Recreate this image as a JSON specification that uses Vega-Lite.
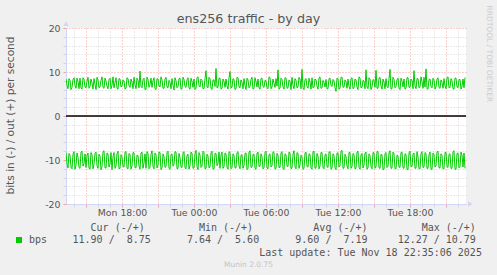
{
"$schema": "https://vega.github.io/schema/vega-lite/v6.json",
"width": 400, "height": 176,
"autosize": {"type": "none"},
"padding": {"left": 66, "top": 28, "right": 31, "bottom": 71},
"background": "#f0f0f0",
"config": {"view": {"fill": "#ffffff", "stroke": null}, "font": "DejaVu Sans"},
"datasets": {"traffic": [
{"t":"2025-11-17T13:20Z","o":8.4,"n":-8.3},{"t":"2025-11-17T13:25Z","o":7.0,"n":-10.9},{"t":"2025-11-17T13:30Z","o":6.2,"n":-11.8},{"t":"2025-11-17T13:35Z","o":8.5,"n":-8.5},{"t":"2025-11-17T13:40Z","o":8.1,"n":-8.9},{"t":"2025-11-17T13:45Z","o":6.0,"n":-11.6},{"t":"2025-11-17T13:50Z","o":6.5,"n":-12.0},{"t":"2025-11-17T13:55Z","o":8.3,"n":-8.7},
{"t":"2025-11-17T14:00Z","o":8.7,"n":-8.1},{"t":"2025-11-17T14:05Z","o":6.9,"n":-12.1},{"t":"2025-11-17T14:10Z","o":6.3,"n":-11.2},{"t":"2025-11-17T14:15Z","o":8.6,"n":-8.4},{"t":"2025-11-17T14:20Z","o":7.8,"n":-9.4},{"t":"2025-11-17T14:25Z","o":6.2,"n":-11.7},{"t":"2025-11-17T14:30Z","o":8.6,"n":-11.9},{"t":"2025-11-17T14:35Z","o":6.4,"n":-8.2},{"t":"2025-11-17T14:40Z","o":6.1,"n":-8.0},{"t":"2025-11-17T14:45Z","o":8.7,"n":-11.4},{"t":"2025-11-17T14:50Z","o":8.3,"n":-10.8},{"t":"2025-11-17T14:55Z","o":6.6,"n":-8.6},
{"t":"2025-11-17T15:00Z","o":6.4,"n":-11.7},{"t":"2025-11-17T15:05Z","o":7.9,"n":-9.0},{"t":"2025-11-17T15:10Z","o":8.8,"n":-8.4},{"t":"2025-11-17T15:15Z","o":6.3,"n":-11.9},{"t":"2025-11-17T15:20Z","o":6.7,"n":-12.1},{"t":"2025-11-17T15:25Z","o":8.4,"n":-8.3},{"t":"2025-11-17T15:30Z","o":7.5,"n":-8.8},{"t":"2025-11-17T15:35Z","o":6.1,"n":-12.0},{"t":"2025-11-17T15:40Z","o":8.5,"n":-11.0},{"t":"2025-11-17T15:45Z","o":7.2,"n":-8.5},{"t":"2025-11-17T15:50Z","o":6.0,"n":-8.2},{"t":"2025-11-17T15:55Z","o":8.8,"n":-11.3},
{"t":"2025-11-17T16:00Z","o":8.2,"n":-11.9},{"t":"2025-11-17T16:05Z","o":6.4,"n":-8.7},{"t":"2025-11-17T16:10Z","o":6.6,"n":-9.1},{"t":"2025-11-17T16:15Z","o":8.1,"n":-12.2},{"t":"2025-11-17T16:20Z","o":8.9,"n":-11.5},{"t":"2025-11-17T16:25Z","o":6.5,"n":-8.1},{"t":"2025-11-17T16:30Z","o":6.3,"n":-7.9},{"t":"2025-11-17T16:35Z","o":8.6,"n":-11.8},{"t":"2025-11-17T16:40Z","o":7.9,"n":-11.8},{"t":"2025-11-17T16:45Z","o":6.8,"n":-8.4},{"t":"2025-11-17T16:50Z","o":6.2,"n":-8.6},{"t":"2025-11-17T16:55Z","o":8.3,"n":-11.6},
{"t":"2025-11-17T17:00Z","o":8.6,"n":-10.9},{"t":"2025-11-17T17:05Z","o":6.2,"n":-8.3},{"t":"2025-11-17T17:10Z","o":7.0,"n":-12.2},{"t":"2025-11-17T17:15Z","o":8.9,"n":-9.2},{"t":"2025-11-17T17:20Z","o":6.4,"n":-8.3},{"t":"2025-11-17T17:25Z","o":7.6,"n":-11.9},{"t":"2025-11-17T17:30Z","o":8.7,"n":-11.4},{"t":"2025-11-17T17:35Z","o":6.3,"n":-8.6},{"t":"2025-11-17T17:40Z","o":6.1,"n":-8.0},{"t":"2025-11-17T17:45Z","o":8.5,"n":-12.0},{"t":"2025-11-17T17:50Z","o":8.4,"n":-11.9},{"t":"2025-11-17T17:55Z","o":6.6,"n":-8.8},
{"t":"2025-11-17T18:00Z","o":6.8,"n":-9.3},{"t":"2025-11-17T18:05Z","o":8.2,"n":-11.5},{"t":"2025-11-17T18:10Z","o":8.0,"n":-11.6},{"t":"2025-11-17T18:15Z","o":6.1,"n":-8.2},{"t":"2025-11-17T18:20Z","o":6.3,"n":-8.1},{"t":"2025-11-17T18:25Z","o":8.7,"n":-11.8},{"t":"2025-11-17T18:30Z","o":8.5,"n":-12.0},{"t":"2025-11-17T18:35Z","o":6.9,"n":-8.5},{"t":"2025-11-17T18:40Z","o":6.5,"n":-8.7},{"t":"2025-11-17T18:45Z","o":8.4,"n":-12.1},{"t":"2025-11-17T18:50Z","o":7.7,"n":-11.3},{"t":"2025-11-17T18:55Z","o":6.2,"n":-8.3},
{"t":"2025-11-17T19:00Z","o":8.8,"n":-8.4},{"t":"2025-11-17T19:05Z","o":7.1,"n":-11.7},{"t":"2025-11-17T19:10Z","o":6.2,"n":-11.8},{"t":"2025-11-17T19:15Z","o":8.6,"n":-8.9},{"t":"2025-11-17T19:20Z","o":8.1,"n":-9.0},{"t":"2025-11-17T19:25Z","o":6.4,"n":-11.4},{"t":"2025-11-17T19:30Z","o":10.2,"n":-12.1},{"t":"2025-11-17T19:35Z","o":6.7,"n":-8.4},{"t":"2025-11-17T19:40Z","o":6.4,"n":-8.2},{"t":"2025-11-17T19:45Z","o":8.3,"n":-11.9},{"t":"2025-11-17T19:50Z","o":8.6,"n":-10.7},{"t":"2025-11-17T19:55Z","o":6.0,"n":-8.6},
{"t":"2025-11-17T20:00Z","o":6.1,"n":-11.9},{"t":"2025-11-17T20:05Z","o":8.8,"n":-8.1},{"t":"2025-11-17T20:10Z","o":8.3,"n":-8.5},{"t":"2025-11-17T20:15Z","o":6.5,"n":-12.0},{"t":"2025-11-17T20:20Z","o":7.1,"n":-11.6},{"t":"2025-11-17T20:25Z","o":8.6,"n":-8.7},{"t":"2025-11-17T20:30Z","o":6.5,"n":-7.9},{"t":"2025-11-17T20:35Z","o":8.0,"n":-11.5},{"t":"2025-11-17T20:40Z","o":8.7,"n":-12.0},{"t":"2025-11-17T20:45Z","o":6.2,"n":-8.4},{"t":"2025-11-17T20:50Z","o":6.0,"n":-8.8},{"t":"2025-11-17T20:55Z","o":8.5,"n":-11.8},
{"t":"2025-11-17T21:00Z","o":8.4,"n":-11.2},{"t":"2025-11-17T21:05Z","o":6.8,"n":-8.2},{"t":"2025-11-17T21:10Z","o":6.6,"n":-8.3},{"t":"2025-11-17T21:15Z","o":8.9,"n":-12.2},{"t":"2025-11-17T21:20Z","o":8.2,"n":-11.8},{"t":"2025-11-17T21:25Z","o":6.3,"n":-8.6},{"t":"2025-11-17T21:30Z","o":6.3,"n":-9.2},{"t":"2025-11-17T21:35Z","o":8.4,"n":-11.7},{"t":"2025-11-17T21:40Z","o":8.8,"n":-11.5},{"t":"2025-11-17T21:45Z","o":6.6,"n":-8.3},{"t":"2025-11-17T21:50Z","o":6.4,"n":-8.0},{"t":"2025-11-17T21:55Z","o":8.1,"n":-11.9},
{"t":"2025-11-17T22:00Z","o":7.6,"n":-12.1},{"t":"2025-11-17T22:05Z","o":6.2,"n":-8.8},{"t":"2025-11-17T22:10Z","o":8.5,"n":-8.6},{"t":"2025-11-17T22:15Z","o":7.0,"n":-11.4},{"t":"2025-11-17T22:20Z","o":5.9,"n":-11.0},{"t":"2025-11-17T22:25Z","o":8.7,"n":-8.1},{"t":"2025-11-17T22:30Z","o":8.0,"n":-8.2},{"t":"2025-11-17T22:35Z","o":6.4,"n":-12.0},{"t":"2025-11-17T22:40Z","o":6.7,"n":-11.9},{"t":"2025-11-17T22:45Z","o":8.5,"n":-8.5},{"t":"2025-11-17T22:50Z","o":8.6,"n":-9.4},{"t":"2025-11-17T22:55Z","o":6.1,"n":-11.6},
{"t":"2025-11-17T23:00Z","o":6.2,"n":-11.7},{"t":"2025-11-17T23:05Z","o":8.8,"n":-8.4},{"t":"2025-11-17T23:10Z","o":8.3,"n":-8.1},{"t":"2025-11-17T23:15Z","o":6.7,"n":-11.8},{"t":"2025-11-17T23:20Z","o":6.5,"n":-12.0},{"t":"2025-11-17T23:25Z","o":8.2,"n":-8.9},{"t":"2025-11-17T23:30Z","o":8.7,"n":-8.7},{"t":"2025-11-17T23:35Z","o":6.3,"n":-12.1},{"t":"2025-11-17T23:40Z","o":6.1,"n":-11.3},{"t":"2025-11-17T23:45Z","o":8.6,"n":-8.2},{"t":"2025-11-17T23:50Z","o":7.8,"n":-8.4},{"t":"2025-11-17T23:55Z","o":6.5,"n":-11.9},
{"t":"2025-11-18T00:00Z","o":8.4,"n":-11.8},{"t":"2025-11-18T00:05Z","o":6.0,"n":-8.6},{"t":"2025-11-18T00:10Z","o":6.3,"n":-7.8},{"t":"2025-11-18T00:15Z","o":8.7,"n":-11.5},{"t":"2025-11-18T00:20Z","o":8.9,"n":-12.2},{"t":"2025-11-18T00:25Z","o":6.9,"n":-8.3},{"t":"2025-11-18T00:30Z","o":6.6,"n":-8.9},{"t":"2025-11-18T00:35Z","o":8.4,"n":-11.7},{"t":"2025-11-18T00:40Z","o":8.1,"n":-11.4},{"t":"2025-11-18T00:45Z","o":6.2,"n":-8.0},{"t":"2025-11-18T00:50Z","o":6.2,"n":-8.3},{"t":"2025-11-18T00:55Z","o":8.5,"n":-12.0},
{"t":"2025-11-18T01:00Z","o":10.3,"n":-11.9},{"t":"2025-11-18T01:05Z","o":6.6,"n":-8.7},{"t":"2025-11-18T01:10Z","o":6.4,"n":-9.1},{"t":"2025-11-18T01:15Z","o":8.8,"n":-11.8},{"t":"2025-11-18T01:20Z","o":8.5,"n":-11.6},{"t":"2025-11-18T01:25Z","o":6.3,"n":-8.4},{"t":"2025-11-18T01:30Z","o":6.0,"n":-8.0},{"t":"2025-11-18T01:35Z","o":8.2,"n":-12.1},{"t":"2025-11-18T01:40Z","o":8.2,"n":-12.0},{"t":"2025-11-18T01:45Z","o":6.7,"n":-8.5},{"t":"2025-11-18T01:50Z","o":10.8,"n":-8.5},{"t":"2025-11-18T01:55Z","o":6.4,"n":-11.3},
{"t":"2025-11-18T02:00Z","o":6.5,"n":-10.8},{"t":"2025-11-18T02:05Z","o":8.6,"n":-8.2},{"t":"2025-11-18T02:10Z","o":8.6,"n":-11.9},{"t":"2025-11-18T02:15Z","o":6.1,"n":-8.8},{"t":"2025-11-18T02:20Z","o":6.3,"n":-8.2},{"t":"2025-11-18T02:25Z","o":8.4,"n":-11.9},{"t":"2025-11-18T02:30Z","o":7.9,"n":-11.5},{"t":"2025-11-18T02:35Z","o":6.5,"n":-8.4},{"t":"2025-11-18T02:40Z","o":8.4,"n":-8.6},{"t":"2025-11-18T02:45Z","o":6.8,"n":-11.6},{"t":"2025-11-18T02:50Z","o":6.1,"n":-12.1},{"t":"2025-11-18T02:55Z","o":8.7,"n":-8.1},
{"t":"2025-11-18T03:00Z","o":10.1,"n":-8.3},{"t":"2025-11-18T03:05Z","o":6.3,"n":-12.0},{"t":"2025-11-18T03:10Z","o":6.6,"n":-11.7},{"t":"2025-11-18T03:15Z","o":8.5,"n":-8.6},{"t":"2025-11-18T03:20Z","o":8.3,"n":-9.0},{"t":"2025-11-18T03:25Z","o":6.0,"n":-11.8},{"t":"2025-11-18T03:30Z","o":6.2,"n":-11.8},{"t":"2025-11-18T03:35Z","o":8.8,"n":-8.3},{"t":"2025-11-18T03:40Z","o":8.7,"n":-8.1},{"t":"2025-11-18T03:45Z","o":6.6,"n":-11.4},{"t":"2025-11-18T03:50Z","o":6.4,"n":-12.0},{"t":"2025-11-18T03:55Z","o":8.2,"n":-8.9},
{"t":"2025-11-18T04:00Z","o":7.6,"n":-8.8},{"t":"2025-11-18T04:05Z","o":6.2,"n":-11.9},{"t":"2025-11-18T04:10Z","o":8.5,"n":-11.2},{"t":"2025-11-18T04:15Z","o":6.9,"n":-8.5},{"t":"2025-11-18T04:20Z","o":6.0,"n":-8.4},{"t":"2025-11-18T04:25Z","o":8.6,"n":-12.2},{"t":"2025-11-18T04:30Z","o":8.2,"n":-11.9},{"t":"2025-11-18T04:35Z","o":6.4,"n":-8.2},{"t":"2025-11-18T04:40Z","o":6.7,"n":-7.9},{"t":"2025-11-18T04:45Z","o":8.3,"n":-11.7},{"t":"2025-11-18T04:50Z","o":8.8,"n":-11.6},{"t":"2025-11-18T04:55Z","o":6.1,"n":-8.7},
{"t":"2025-11-18T05:00Z","o":6.3,"n":-8.7},{"t":"2025-11-18T05:05Z","o":8.7,"n":-11.9},{"t":"2025-11-18T05:10Z","o":7.8,"n":-12.1},{"t":"2025-11-18T05:15Z","o":6.6,"n":-8.4},{"t":"2025-11-18T05:20Z","o":8.4,"n":-8.2},{"t":"2025-11-18T05:25Z","o":6.3,"n":-11.5},{"t":"2025-11-18T05:30Z","o":6.1,"n":-11.4},{"t":"2025-11-18T05:35Z","o":8.5,"n":-8.6},{"t":"2025-11-18T05:40Z","o":8.6,"n":-9.2},{"t":"2025-11-18T05:45Z","o":6.7,"n":-12.0},{"t":"2025-11-18T05:50Z","o":6.5,"n":-11.8},{"t":"2025-11-18T05:55Z","o":8.1,"n":-8.3},
{"t":"2025-11-18T06:00Z","o":8.0,"n":-8.0},{"t":"2025-11-18T06:05Z","o":6.4,"n":-11.8},{"t":"2025-11-18T06:10Z","o":6.2,"n":-12.0},{"t":"2025-11-18T06:15Z","o":8.9,"n":-8.8},{"t":"2025-11-18T06:20Z","o":8.7,"n":-8.6},{"t":"2025-11-18T06:25Z","o":6.2,"n":-11.6},{"t":"2025-11-18T06:30Z","o":6.6,"n":-11.3},{"t":"2025-11-18T06:35Z","o":8.4,"n":-8.1},{"t":"2025-11-18T06:40Z","o":7.4,"n":-8.3},{"t":"2025-11-18T06:45Z","o":6.5,"n":-12.1},{"t":"2025-11-18T06:50Z","o":8.5,"n":-11.9},{"t":"2025-11-18T06:55Z","o":6.8,"n":-8.5},
{"t":"2025-11-18T07:00Z","o":10.5,"n":-9.0},{"t":"2025-11-18T07:05Z","o":6.1,"n":-11.7},{"t":"2025-11-18T07:10Z","o":6.3,"n":-11.7},{"t":"2025-11-18T07:15Z","o":8.6,"n":-8.4},{"t":"2025-11-18T07:20Z","o":8.3,"n":-8.1},{"t":"2025-11-18T07:25Z","o":6.6,"n":-11.9},{"t":"2025-11-18T07:30Z","o":6.1,"n":-12.2},{"t":"2025-11-18T07:35Z","o":8.7,"n":-8.6},{"t":"2025-11-18T07:40Z","o":8.6,"n":-8.8},{"t":"2025-11-18T07:45Z","o":6.3,"n":-11.4},{"t":"2025-11-18T07:50Z","o":6.4,"n":-11.5},{"t":"2025-11-18T07:55Z","o":8.2,"n":-8.2},
{"t":"2025-11-18T08:00Z","o":7.9,"n":-8.4},{"t":"2025-11-18T08:05Z","o":6.0,"n":-12.0},{"t":"2025-11-18T08:10Z","o":8.8,"n":-11.8},{"t":"2025-11-18T08:15Z","o":6.9,"n":-8.7},{"t":"2025-11-18T08:20Z","o":6.2,"n":-7.9},{"t":"2025-11-18T08:25Z","o":8.5,"n":-11.6},{"t":"2025-11-18T08:30Z","o":8.1,"n":-12.0},{"t":"2025-11-18T08:35Z","o":6.4,"n":-8.3},{"t":"2025-11-18T08:40Z","o":6.6,"n":-8.5},{"t":"2025-11-18T08:45Z","o":8.8,"n":-11.9},{"t":"2025-11-18T08:50Z","o":8.4,"n":-11.1},{"t":"2025-11-18T08:55Z","o":6.2,"n":-8.9},
{"t":"2025-11-18T09:00Z","o":10.6,"n":-9.3},{"t":"2025-11-18T09:05Z","o":6.5,"n":-12.1},{"t":"2025-11-18T09:10Z","o":6.0,"n":-11.9},{"t":"2025-11-18T09:15Z","o":8.3,"n":-8.4},{"t":"2025-11-18T09:20Z","o":8.5,"n":-8.2},{"t":"2025-11-18T09:25Z","o":6.7,"n":-11.5},{"t":"2025-11-18T09:30Z","o":6.3,"n":-11.6},{"t":"2025-11-18T09:35Z","o":8.6,"n":-8.6},{"t":"2025-11-18T09:40Z","o":7.7,"n":-8.7},{"t":"2025-11-18T09:45Z","o":6.1,"n":-11.8},{"t":"2025-11-18T09:50Z","o":8.7,"n":-12.1},{"t":"2025-11-18T09:55Z","o":6.4,"n":-8.1},
{"t":"2025-11-18T10:00Z","o":6.5,"n":-8.0},{"t":"2025-11-18T10:05Z","o":8.4,"n":-11.9},{"t":"2025-11-18T10:10Z","o":8.2,"n":-11.8},{"t":"2025-11-18T10:15Z","o":6.8,"n":-8.5},{"t":"2025-11-18T10:20Z","o":6.1,"n":-9.1},{"t":"2025-11-18T10:25Z","o":8.7,"n":-12.0},{"t":"2025-11-18T10:30Z","o":8.9,"n":-11.4},{"t":"2025-11-18T10:35Z","o":6.3,"n":-8.3},{"t":"2025-11-18T10:40Z","o":6.4,"n":-8.3},{"t":"2025-11-18T10:45Z","o":8.1,"n":-11.7},{"t":"2025-11-18T10:50Z","o":7.6,"n":-12.0},{"t":"2025-11-18T10:55Z","o":6.6,"n":-8.8},
{"t":"2025-11-18T11:00Z","o":8.3,"n":-8.6},{"t":"2025-11-18T11:05Z","o":6.2,"n":-11.5},{"t":"2025-11-18T11:10Z","o":6.2,"n":-11.7},{"t":"2025-11-18T11:15Z","o":8.5,"n":-8.2},{"t":"2025-11-18T11:20Z","o":8.6,"n":-8.1},{"t":"2025-11-18T11:25Z","o":6.9,"n":-12.1},{"t":"2025-11-18T11:30Z","o":6.7,"n":-11.9},{"t":"2025-11-18T11:35Z","o":8.3,"n":-8.6},{"t":"2025-11-18T11:40Z","o":8.0,"n":-8.9},{"t":"2025-11-18T11:45Z","o":6.4,"n":-11.8},{"t":"2025-11-18T11:50Z","o":5.6,"n":-12.2},{"t":"2025-11-18T11:55Z","o":8.6,"n":-8.4},
{"t":"2025-11-18T12:00Z","o":8.5,"n":-8.4},{"t":"2025-11-18T12:05Z","o":6.1,"n":-11.6},{"t":"2025-11-18T12:10Z","o":6.3,"n":-11.3},{"t":"2025-11-18T12:15Z","o":8.8,"n":-8.0},{"t":"2025-11-18T12:20Z","o":8.8,"n":-7.8},{"t":"2025-11-18T12:25Z","o":6.5,"n":-11.9},{"t":"2025-11-18T12:30Z","o":6.6,"n":-11.8},{"t":"2025-11-18T12:35Z","o":8.2,"n":-8.7},{"t":"2025-11-18T12:40Z","o":7.8,"n":-9.2},{"t":"2025-11-18T12:45Z","o":6.3,"n":-11.4},{"t":"2025-11-18T12:50Z","o":8.4,"n":-12.0},{"t":"2025-11-18T12:55Z","o":6.7,"n":-8.3},
{"t":"2025-11-18T13:00Z","o":6.1,"n":-8.3},{"t":"2025-11-18T13:05Z","o":8.5,"n":-11.9},{"t":"2025-11-18T13:10Z","o":8.7,"n":-11.5},{"t":"2025-11-18T13:15Z","o":6.2,"n":-8.5},{"t":"2025-11-18T13:20Z","o":6.4,"n":-8.7},{"t":"2025-11-18T13:25Z","o":8.4,"n":-12.0},{"t":"2025-11-18T13:30Z","o":8.2,"n":-11.9},{"t":"2025-11-18T13:35Z","o":6.6,"n":-8.2},{"t":"2025-11-18T13:40Z","o":6.0,"n":-8.0},{"t":"2025-11-18T13:45Z","o":8.9,"n":-11.7},{"t":"2025-11-18T13:50Z","o":8.6,"n":-12.1},{"t":"2025-11-18T13:55Z","o":6.4,"n":-8.8},
{"t":"2025-11-18T14:00Z","o":6.5,"n":-8.5},{"t":"2025-11-18T14:05Z","o":8.1,"n":-11.8},{"t":"2025-11-18T14:10Z","o":7.9,"n":-11.2},{"t":"2025-11-18T14:15Z","o":6.2,"n":-8.4},{"t":"2025-11-18T14:20Z","o":10.5,"n":-8.2},{"t":"2025-11-18T14:25Z","o":6.6,"n":-12.1},{"t":"2025-11-18T14:30Z","o":6.2,"n":-11.8},{"t":"2025-11-18T14:35Z","o":8.7,"n":-8.6},{"t":"2025-11-18T14:40Z","o":8.4,"n":-9.0},{"t":"2025-11-18T14:45Z","o":6.0,"n":-11.5},{"t":"2025-11-18T14:50Z","o":6.6,"n":-12.0},{"t":"2025-11-18T14:55Z","o":8.3,"n":-8.3},
{"t":"2025-11-18T15:00Z","o":8.1,"n":-8.4},{"t":"2025-11-18T15:05Z","o":6.5,"n":-11.9},{"t":"2025-11-18T15:10Z","o":10.4,"n":-11.6},{"t":"2025-11-18T15:15Z","o":6.3,"n":-8.1},{"t":"2025-11-18T15:20Z","o":6.3,"n":-8.1},{"t":"2025-11-18T15:25Z","o":8.6,"n":-11.8},{"t":"2025-11-18T15:30Z","o":8.8,"n":-11.9},{"t":"2025-11-18T15:35Z","o":6.8,"n":-8.7},{"t":"2025-11-18T15:40Z","o":6.1,"n":-8.8},{"t":"2025-11-18T15:45Z","o":8.4,"n":-12.2},{"t":"2025-11-18T15:50Z","o":7.7,"n":-12.1},{"t":"2025-11-18T15:55Z","o":6.2,"n":-8.5},
{"t":"2025-11-18T16:00Z","o":8.5,"n":-8.3},{"t":"2025-11-18T16:05Z","o":6.7,"n":-11.7},{"t":"2025-11-18T16:10Z","o":6.4,"n":-11.4},{"t":"2025-11-18T16:15Z","o":8.5,"n":-8.4},{"t":"2025-11-18T16:20Z","o":10.6,"n":-7.9},{"t":"2025-11-18T16:25Z","o":6.1,"n":-11.9},{"t":"2025-11-18T16:30Z","o":6.2,"n":-11.8},{"t":"2025-11-18T16:35Z","o":8.8,"n":-8.2},{"t":"2025-11-18T16:40Z","o":8.3,"n":-8.6},{"t":"2025-11-18T16:45Z","o":6.4,"n":-12.0},{"t":"2025-11-18T16:50Z","o":6.7,"n":-12.0},{"t":"2025-11-18T16:55Z","o":8.2,"n":-8.9},
{"t":"2025-11-18T17:00Z","o":8.6,"n":-9.1},{"t":"2025-11-18T17:05Z","o":6.3,"n":-11.6},{"t":"2025-11-18T17:10Z","o":6.0,"n":-11.7},{"t":"2025-11-18T17:15Z","o":8.6,"n":-8.3},{"t":"2025-11-18T17:20Z","o":7.9,"n":-8.2},{"t":"2025-11-18T17:25Z","o":6.6,"n":-11.8},{"t":"2025-11-18T17:30Z","o":8.4,"n":-11.9},{"t":"2025-11-18T17:35Z","o":6.1,"n":-8.6},{"t":"2025-11-18T17:40Z","o":6.3,"n":-8.7},{"t":"2025-11-18T17:45Z","o":8.7,"n":-12.1},{"t":"2025-11-18T17:50Z","o":8.7,"n":-12.2},{"t":"2025-11-18T17:55Z","o":6.5,"n":-8.4},
{"t":"2025-11-18T18:00Z","o":6.5,"n":-8.0},{"t":"2025-11-18T18:05Z","o":8.4,"n":-11.5},{"t":"2025-11-18T18:10Z","o":8.1,"n":-11.5},{"t":"2025-11-18T18:15Z","o":6.2,"n":-8.7},{"t":"2025-11-18T18:20Z","o":10.3,"n":-8.4},{"t":"2025-11-18T18:25Z","o":6.8,"n":-11.9},{"t":"2025-11-18T18:30Z","o":6.2,"n":-11.8},{"t":"2025-11-18T18:35Z","o":8.5,"n":-8.1},{"t":"2025-11-18T18:40Z","o":8.5,"n":-9.3},{"t":"2025-11-18T18:45Z","o":6.4,"n":-12.0},{"t":"2025-11-18T18:50Z","o":6.6,"n":-12.0},{"t":"2025-11-18T18:55Z","o":8.9,"n":-8.5},
{"t":"2025-11-18T19:00Z","o":7.8,"n":-8.1},{"t":"2025-11-18T19:05Z","o":6.3,"n":-11.7},{"t":"2025-11-18T19:10Z","o":8.8,"n":-11.6},{"t":"2025-11-18T19:15Z","o":6.6,"n":-8.3},{"t":"2025-11-18T19:20Z","o":10.7,"n":-8.5},{"t":"2025-11-18T19:25Z","o":6.2,"n":-11.9},{"t":"2025-11-18T19:30Z","o":6.1,"n":-11.9},{"t":"2025-11-18T19:35Z","o":8.3,"n":-8.8},{"t":"2025-11-18T19:40Z","o":8.4,"n":-8.2},{"t":"2025-11-18T19:45Z","o":6.7,"n":-12.1},{"t":"2025-11-18T19:50Z","o":6.4,"n":-12.1},{"t":"2025-11-18T19:55Z","o":8.6,"n":-8.4},
{"t":"2025-11-18T20:00Z","o":8.2,"n":-8.8},{"t":"2025-11-18T20:05Z","o":6.1,"n":-11.6},{"t":"2025-11-18T20:10Z","o":6.6,"n":-11.3},{"t":"2025-11-18T20:15Z","o":8.4,"n":-8.2},{"t":"2025-11-18T20:20Z","o":8.7,"n":-8.0},{"t":"2025-11-18T20:25Z","o":6.5,"n":-11.8},{"t":"2025-11-18T20:30Z","o":6.3,"n":-11.8},{"t":"2025-11-18T20:35Z","o":8.2,"n":-8.6},{"t":"2025-11-18T20:40Z","o":7.6,"n":-9.0},{"t":"2025-11-18T20:45Z","o":6.3,"n":-12.0},{"t":"2025-11-18T20:50Z","o":8.5,"n":-12.0},{"t":"2025-11-18T20:55Z","o":6.8,"n":-8.3},
{"t":"2025-11-18T21:00Z","o":6.2,"n":-8.3},{"t":"2025-11-18T21:05Z","o":8.7,"n":-11.5},{"t":"2025-11-18T21:10Z","o":8.9,"n":-11.7},{"t":"2025-11-18T21:15Z","o":6.4,"n":-8.7},{"t":"2025-11-18T21:20Z","o":6.5,"n":-8.6},{"t":"2025-11-18T21:25Z","o":8.5,"n":-11.9},{"t":"2025-11-18T21:30Z","o":8.0,"n":-11.9},{"t":"2025-11-18T21:35Z","o":6.2,"n":-8.1},{"t":"2025-11-18T21:40Z","o":6.1,"n":-7.9},{"t":"2025-11-18T21:45Z","o":8.6,"n":-12.1},{"t":"2025-11-18T21:50Z","o":8.6,"n":-12.1},{"t":"2025-11-18T21:55Z","o":6.6,"n":-8.5},
{"t":"2025-11-18T22:00Z","o":6.4,"n":-8.4},{"t":"2025-11-18T22:05Z","o":8.3,"n":-11.8},{"t":"2025-11-18T22:10Z","o":8.3,"n":-11.5},{"t":"2025-11-18T22:15Z","o":6.1,"n":-8.2},{"t":"2025-11-18T22:20Z","o":6.7,"n":-8.9},{"t":"2025-11-18T22:25Z","o":8.4,"n":-11.6},{"t":"2025-11-18T22:30Z","o":6.4,"n":-8.4},{"t":"2025-11-18T22:35Z","o":8.75,"n":-11.9}
]},
"layer": [
{
"data": {"name": "traffic"},
"mark": {"type": "line", "strokeWidth": 1, "clip": true},
"encoding": {
"x": {"field": "t", "type": "temporal",
"scale": {"type": "utc", "nice": false, "domain": [{"year": 2025, "month": 11, "date": 17, "hours": 13, "minutes": 20, "utc": true}, {"year": 2025, "month": 11, "date": 18, "hours": 22, "minutes": 40, "utc": true}]},
"axis": {"orient": "bottom", "tickCount": 34,
"grid": true,
"gridColor": {"condition": {"test": "utchours(datum.value) % 3 === 0", "value": "#f2a3a3"}, "value": "#d4d4d4"},
"gridDash": [1, 2],
"tickColor": {"condition": {"test": "utchours(datum.value) % 3 === 0", "value": "#f2a3a3"}, "value": "#d4d4d4"},
"tickSize": 3, "domainColor": "#cfd6f8",
"labelExpr": "utchours(datum.value) % 6 === 0 ? utcFormat(datum.value, '%a %H:%M') : ''",
"labelOverlap": false, "labelFlush": false, "labelBound": false,
"labelFont": "DejaVu Sans", "labelFontSize": 9.33, "labelColor": "#555555", "labelPadding": 1,
"title": ["\u200b\u00a0\u00a0\u00a0\u00a0Cur (-/+)\u00a0\u00a0\u00a0\u00a0\u00a0\u00a0\u00a0\u00a0\u00a0Min (-/+)\u00a0\u00a0\u00a0\u00a0\u00a0\u00a0\u00a0\u00a0\u00a0\u00a0Avg (-/+)\u00a0\u00a0\u00a0\u00a0\u00a0\u00a0\u00a0\u00a0\u00a0Max (-/+)",
"\u200b\u00a011.90\u00a0/\u00a0\u00a08.75\u00a0\u00a0\u00a0\u00a0\u00a0\u00a07.64\u00a0/\u00a0\u00a05.60\u00a0\u00a0\u00a0\u00a0\u00a0\u00a09.60\u00a0/\u00a0\u00a07.19\u00a0\u00a0\u00a0\u00a0\u00a012.27\u00a0/\u00a010.79",
"\u200b\u00a0\u00a0\u00a0\u00a0\u00a0\u00a0\u00a0\u00a0\u00a0\u00a0\u00a0\u00a0\u00a0\u00a0\u00a0\u00a0\u00a0\u00a0\u00a0\u00a0\u00a0\u00a0\u00a0\u00a0\u00a0\u00a0\u00a0\u00a0\u00a0\u00a0\u00a0\u00a0Last update: Tue Nov 18 22:35:06 2025"],
"titleFont": "DejaVu Sans Mono", "titleFontSize": 10, "titleFontWeight": "normal", "titleColor": "#555555",
"titleX": 0, "titleY": 26.7, "titleAlign": "left", "titleBaseline": "alphabetic", "titleLineHeight": 12.2, "titleAngle": 0}},
"y": {"field": "o", "type": "quantitative",
"scale": {"domain": [-20, 20], "nice": false, "zero": false},
"axis": {"orient": "left", "values": [-20, -18, -16, -14, -12, -10, -8, -6, -4, -2, 0, 2, 4, 6, 8, 10, 12, 14, 16, 18, 20],
"grid": true,
"gridColor": {"condition": {"test": "datum.value % 10 === 0", "value": "#f2a3a3"}, "value": "#d4d4d4"},
"gridDash": [1, 2],
"tickColor": {"condition": {"test": "datum.value % 10 === 0", "value": "#f2a3a3"}, "value": "#d4d4d4"},
"tickSize": 3, "domainColor": "#cfd6f8",
"labelExpr": "datum.value % 10 === 0 ? '' + datum.value : ''",
"labelFont": "DejaVu Sans", "labelFontSize": 9.33, "labelColor": "#555555", "labelPadding": 3,
"title": "bits in (-) / out (+) per second",
"titleFont": "DejaVu Sans", "titleFontSize": 10.6, "titleFontWeight": "normal", "titleColor": "#555555",
"titleX": -56, "titleY": 87, "titleAngle": -90, "titleAlign": "center", "titleBaseline": "middle"}},
"color": {"datum": "bps", "scale": {"range": ["#00cc00"]},
"legend": {"orient": "none", "legendX": -52, "legendY": 207, "title": null, "padding": 0,
"symbolType": "square", "symbolSize": 36, "symbolFillColor": "#00cc00", "symbolStrokeColor": "#00cc00", "symbolStrokeWidth": 0,
"labelFont": "DejaVu Sans Mono", "labelFontSize": 10, "labelColor": "#555555", "labelOffset": 5}}
}
},
{
"data": {"name": "traffic"},
"mark": {"type": "line", "strokeWidth": 1, "clip": true},
"encoding": {
"x": {"field": "t", "type": "temporal", "axis": null},
"y": {"field": "n", "type": "quantitative", "axis": null},
"color": {"datum": "bps"}
}
},
{
"data": {"values": [{}]},
"mark": {"type": "rule", "color": "#000000", "strokeWidth": 1.5},
"encoding": {
"x": {"datum": {"year": 2025, "month": 11, "date": 17, "hours": 13, "minutes": 20, "utc": true}, "type": "temporal",
"axis": {"orient": "top", "domain": false, "ticks": false, "labels": false, "grid": false,
"title": "ens256 traffic - by day", "titleFont": "DejaVu Sans", "titleFontSize": 12.7, "titleFontWeight": "normal", "titleColor": "#555555",
"titleX": 182, "titleY": -5.5, "titleAlign": "center", "titleBaseline": "alphabetic", "titleAngle": 0}},
"x2": {"datum": {"year": 2025, "month": 11, "date": 18, "hours": 22, "minutes": 40, "utc": true}},
"y": {"datum": 0, "type": "quantitative",
"axis": {"orient": "right", "domain": false, "ticks": false, "labels": false, "grid": false,
"title": "RRDTOOL / TOBI OETIKER", "titleFont": "DejaVu Sans", "titleFontSize": 7.5, "titleFontWeight": "normal", "titleColor": "#cccccc",
"titleAngle": 90, "titleX": 22, "titleY": -23, "titleAlign": "left", "titleBaseline": "middle"}}
}
},
{
"data": {"values": [{}]},
"mark": {"type": "point", "shape": "triangle-up", "filled": true, "size": 30, "color": "#cfd6f8", "opacity": 1},
"encoding": {
"x": {"datum": {"year": 2025, "month": 11, "date": 17, "hours": 13, "minutes": 20, "utc": true}, "type": "temporal",
"axis": {"orient": "bottom", "domain": false, "ticks": false, "labels": false, "grid": false,
"title": "Munin 2.0.75", "titleFont": "DejaVu Sans", "titleFontSize": 7.5, "titleFontWeight": "normal", "titleColor": "#c4c4c4",
"titleX": 182, "titleY": 60, "titleAlign": "center", "titleBaseline": "middle", "titleAngle": 0}},
"y": {"datum": 21.0, "type": "quantitative", "axis": null}
}
},
{
"data": {"values": [{}]},
"mark": {"type": "point", "shape": "triangle-right", "filled": true, "size": 30, "color": "#cfd6f8", "opacity": 1},
"encoding": {
"x": {"datum": {"year": 2025, "month": 11, "date": 18, "hours": 23, "minutes": 2, "utc": true}, "type": "temporal", "axis": null},
"y": {"datum": -20, "type": "quantitative", "axis": null}
}
}
],
"resolve": {"axis": {"x": "independent", "y": "independent"}}
}
